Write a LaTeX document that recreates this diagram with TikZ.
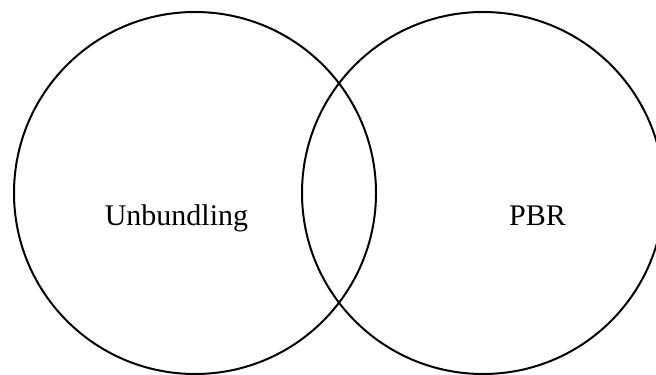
\documentclass[tikz,border=0pt]{standalone}
\usepackage{fontspec}
\setmainfont{Liberation Serif}
\begin{document}
\begin{tikzpicture}[x=0.5pt,y=-0.5pt,
  setcircle/.style={draw=black, line width=1pt, circle, minimum size=181pt, inner sep=0pt},
  setlabel/.style={font=\fontsize{15}{18}\selectfont, anchor=base, inner sep=0pt}]
  \useasboundingbox (0,0) rectangle (656,374);
  \clip (0,0) rectangle (656,374);
  % the two overlapping sets
  \node[setcircle] (unb) at (195,193) {};
  \node[setcircle] (pbr) at (483,193) {};
  % set names
  \node[setlabel] (unblabel) at (176.5,225) {Unbundling};
  \node[setlabel] (pbrlabel) at (537.5,225) {PBR};
\end{tikzpicture}
\end{document}
